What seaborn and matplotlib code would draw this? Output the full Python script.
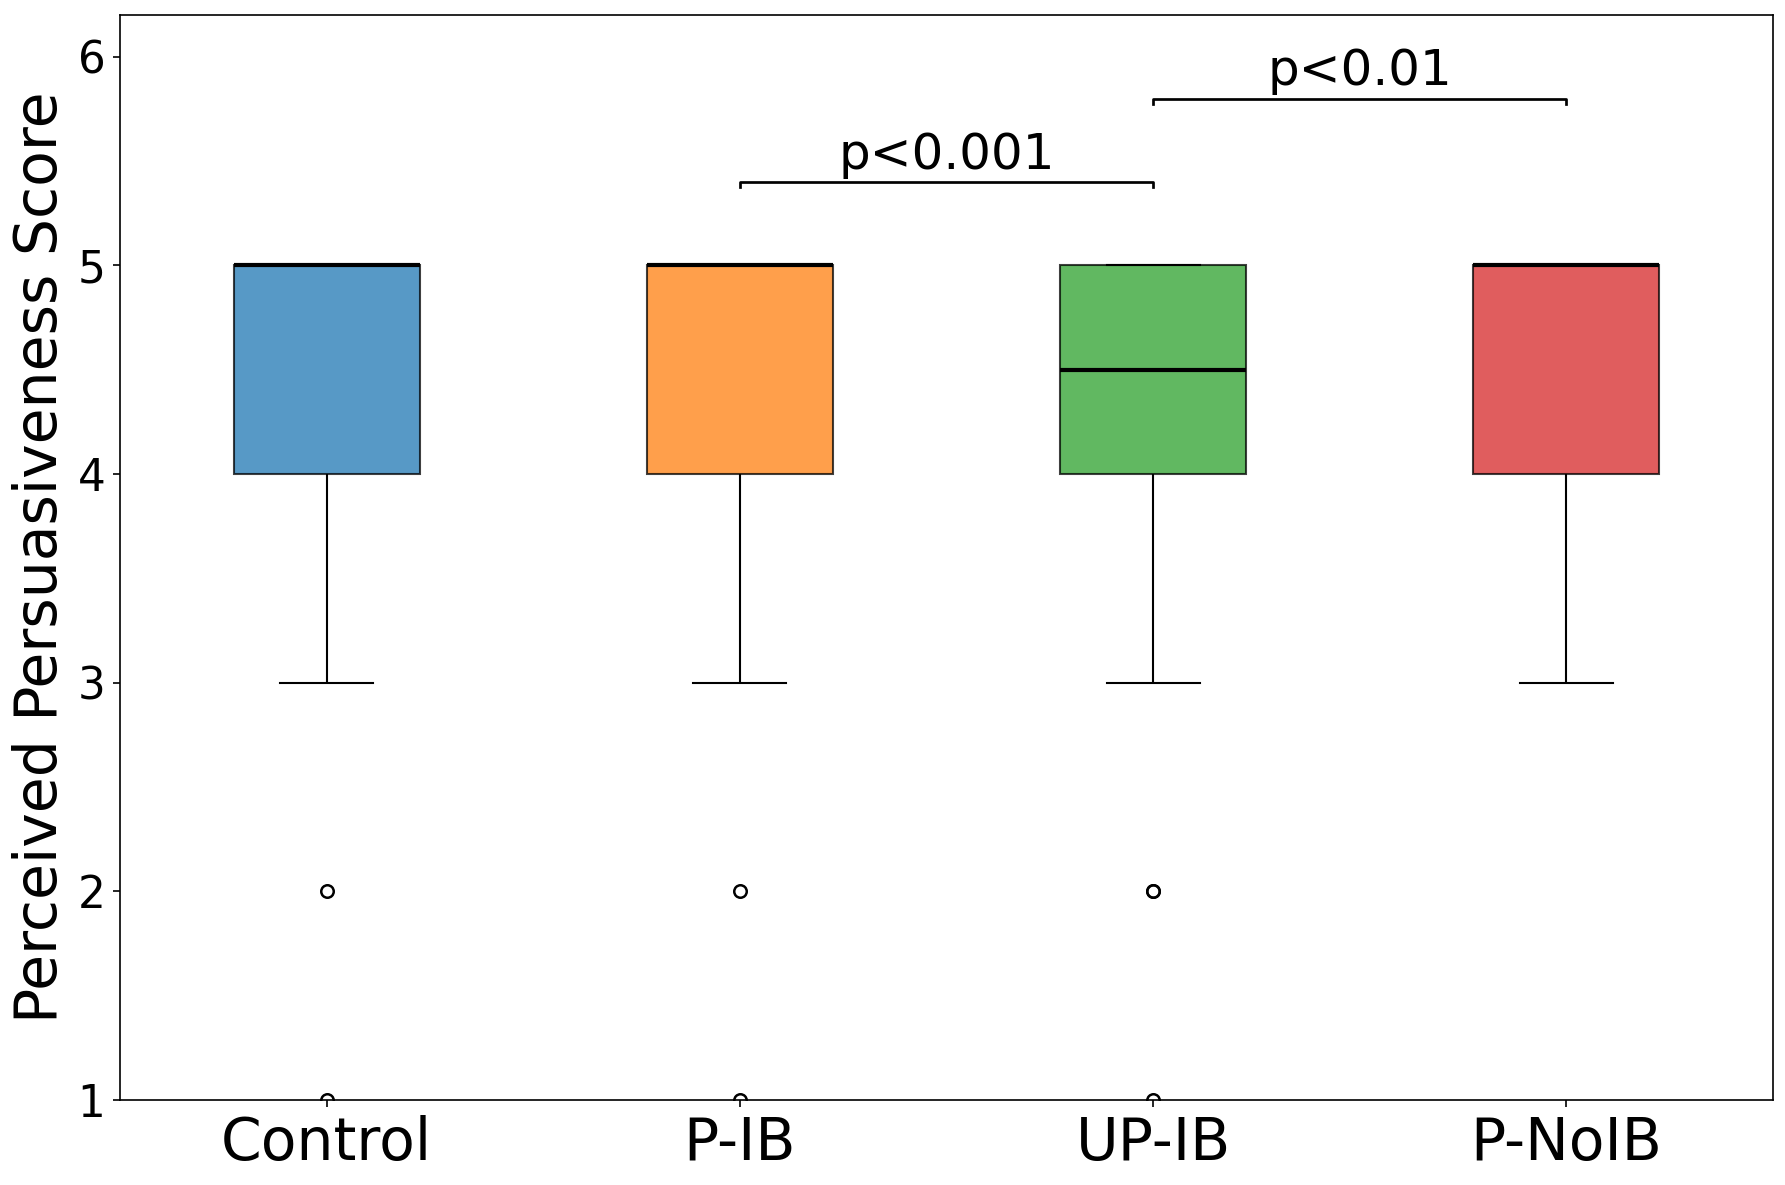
import numpy as np
import pandas as pd
import matplotlib
matplotlib.use('Agg')
import matplotlib.pyplot as plt
import seaborn as sns

# Likert score counts per condition (estimated from the box/whisker/outlier layout)
groups = ['Control', 'P-IB', 'UP-IB', 'P-NoIB']
scores = [1, 2, 3, 4, 5]
counts_control = [1, 1, 3, 10, 20]
counts_pib = [1, 1, 3, 10, 20]
counts_upib = [1, 2, 3, 12, 18]
counts_pnoib = [0, 0, 3, 10, 20]
colors = ['#1f77b4', '#ff7f0e', '#2ca02c', '#d62728']

# significance brackets: (left group, right group, height, label)
sig_pairs = [(1, 2, 5.4, 'p<0.001'), (2, 3, 5.8, 'p<0.01')]

rows = []
for g, cnt in zip(groups, [counts_control, counts_pib, counts_upib, counts_pnoib]):
    for s, c in zip(scores, cnt):
        rows += [(g, s)] * c
df = pd.DataFrame(rows, columns=['group', 'score'])

fig = plt.figure(figsize=(11.9, 7.9), dpi=150)
ax = fig.add_axes([0.0672, 0.0717, 0.9261, 0.9156])

sns.boxplot(data=df, x='group', y='score', hue='group', order=groups, hue_order=groups,
            palette=colors, saturation=1, width=0.45, linecolor='black', linewidth=1,
            medianprops=dict(color='black', linewidth=2),
            whiskerprops=dict(color='black', linewidth=1),
            capprops=dict(color='black', linewidth=1),
            flierprops=dict(marker='o', markersize=6, markerfacecolor='none',
                            markeredgecolor='black', markeredgewidth=1.2),
            legend=False, ax=ax)

for p in ax.patches:
    p.set_alpha(0.75)

for x1, x2, h, label in sig_pairs:
    ax.plot([x1, x1, x2, x2], [h - 0.025, h, h, h - 0.025], color='black', lw=1.3)
    ax.text((x1 + x2) / 2, h + 0.015, label, ha='center', va='bottom', fontsize=24)

ax.set_xlim(-0.5, 3.5)
ax.set_ylim(1, 6.2)
ax.set_yticks([1, 2, 3, 4, 5, 6])
ax.set_xlabel('')
ax.set_ylabel('Perceived Persuasiveness Score', fontsize=28)
ax.tick_params(axis='x', labelsize=28)
ax.tick_params(axis='y', labelsize=21)

fig.savefig('out.png', dpi=150)
